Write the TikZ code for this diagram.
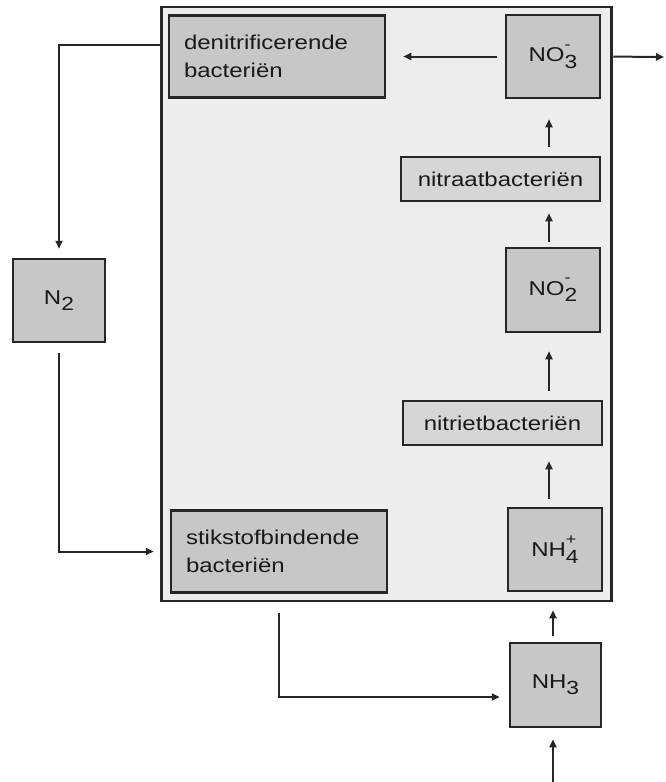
\documentclass[tikz,border=0pt]{standalone}
\usepackage{fontspec}
\setmainfont{Liberation Sans}[FakeStretch=1.2]
\usetikzlibrary{arrows.meta}
\definecolor{lineC}{gray}{0.15}
\definecolor{bigC}{gray}{0.93}
\definecolor{boxC}{gray}{0.78}
\definecolor{slimC}{gray}{0.84}
\newcommand{\chemion}[3]{#1\rlap{\raisebox{0.62em}{\fontsize{15}{15}\selectfont #3}}\raisebox{-0.32em}{\fontsize{19}{19}\selectfont #2}}
\begin{document}
\begin{tikzpicture}[x=1pt,y=-1pt,
  txt/.style={font=\fontsize{20}{28}\selectfont, text=black!90},
  bigbox/.style={draw=lineC, fill=bigC, line width=2.2pt, inner sep=0pt},
  chem/.style={txt, draw=lineC, fill=boxC, line width=2.5pt, minimum width=94pt, minimum height=83pt, inner sep=0pt},
  bact/.style={txt, draw=lineC, fill=boxC, line width=2.5pt, minimum height=82pt, text width=186pt, inner xsep=15pt, inner ysep=0pt, align=left},
  slim/.style={txt, draw=lineC, fill=slimC, line width=2.5pt, minimum width=199pt, minimum height=44pt, inner sep=0pt},
  arr/.style={-{Triangle[length=8pt,width=7pt]}, line width=2pt, draw=lineC}]
\useasboundingbox (0,0) rectangle (665,782);
\node[bigbox, minimum width=450pt, minimum height=594pt] (big) at (386.5,304) {};
\node[bact] (denitr) at (277,56.5) {denitrificerende\\bacteriën};
\node[chem] (no3) at (553,56.5) {\chemion{NO}{3}{-}};
\node[slim] (nitraat) at (500.5,179) {nitraatbacteriën};
\node[chem, minimum height=84pt] (no2) at (553,290) {\chemion{NO}{2}{-}};
\node[slim] (nitriet) at (502.5,423) {nitrietbacteriën};
\node[chem] (nh4) at (555,549.5) {\chemion{NH}{4}{+}};
\node[bact] (stik) at (279,551.5) {stikstofbindende\\bacteriën};
\node[chem, minimum width=91pt, minimum height=84pt] (nh3) at (555.5,685) {NH\raisebox{-0.32em}{\fontsize{19}{19}\selectfont 3}};
\node[chem, minimum width=92pt] (n2) at (59,300.5) {N\raisebox{-0.32em}{\fontsize{19}{19}\selectfont 2}};
\coordinate (ax) at (549,0);
\coordinate (out) at (664,57);
\coordinate (inp) at (553,782);
\coordinate (ly) at (0,45);
\coordinate (by) at (0,697);
% arrows
\draw[arr, shorten <=8pt, shorten >=17pt] (no3.west) -- (denitr.east);
\draw[arr, shorten <=12pt] (no3.east) -- (out);
\draw[arr, shorten <=9pt, shorten >=20pt] (nitraat.north -| ax) -- (no3.south -| ax);
\draw[arr, shorten <=5pt, shorten >=11pt] (no2.north -| ax) -- (nitraat.south -| ax);
\draw[arr, shorten <=9pt, shorten >=18pt] (nitriet.north -| ax) -- (no2.south -| ax);
\draw[arr, shorten <=8pt, shorten >=15pt] (nh4.north -| ax) -- (nitriet.south -| ax);
\draw[arr, shorten <=6pt, shorten >=18pt] (nh3.north -| inp) -- (nh4.south -| inp);
\draw[arr, shorten >=11pt] (inp) -- (nh3.south -| inp);
\draw[arr, shorten >=9pt] (big.west |- ly) -| (n2.north);
\draw[arr, shorten <=10pt, shorten >=16pt] (n2.south) |- (stik.west);
\draw[arr, shorten <=19pt, shorten >=9pt] (stik.south) |- (nh3.west |- by);
\end{tikzpicture}
\end{document}
